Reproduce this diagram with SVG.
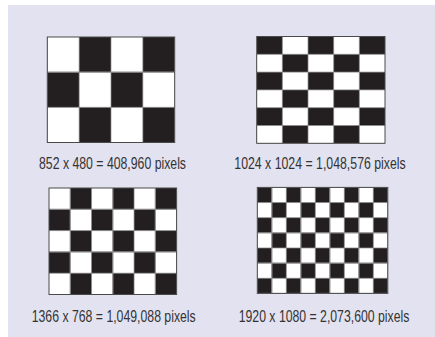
<svg xmlns="http://www.w3.org/2000/svg" width="435" height="337" viewBox="0 0 435 337">
  <style>
    .lbl { font-family: "Liberation Sans", Arial, sans-serif; font-size: 16.5px; fill: #333333; text-anchor: middle; }
    .grid { fill: none; stroke: #8c8c8c; stroke-width: 0.7; }
    .frame { fill: none; stroke: #4a4a4a; stroke-width: 1; }
  </style>
  <defs>
    <pattern id="p1" patternUnits="userSpaceOnUse" x="47.3" y="37" width="63.7" height="70.34">
      <rect x="0" y="0" width="63.7" height="70.34" fill="#ffffff"/>
      <rect x="31.85" y="0" width="31.85" height="35.17" fill="#231f20"/>
      <rect x="0" y="35.17" width="31.85" height="35.17" fill="#231f20"/>
    </pattern>
    <pattern id="p2" patternUnits="userSpaceOnUse" x="256.7" y="36.5" width="51.32" height="35.6">
      <rect x="0" y="0" width="51.32" height="35.6" fill="#ffffff"/>
      <rect x="0" y="0" width="25.66" height="17.8" fill="#231f20"/>
      <rect x="25.66" y="17.8" width="25.66" height="17.8" fill="#231f20"/>
    </pattern>
    <pattern id="p3" patternUnits="userSpaceOnUse" x="49" y="188" width="42.53" height="42.6">
      <rect x="0" y="0" width="42.53" height="42.6" fill="#ffffff"/>
      <rect x="21.27" y="0" width="21.27" height="21.3" fill="#231f20"/>
      <rect x="0" y="21.3" width="21.27" height="21.3" fill="#231f20"/>
    </pattern>
    <pattern id="p4" patternUnits="userSpaceOnUse" x="257.3" y="187.4" width="29" height="30.28">
      <rect x="0" y="0" width="29" height="30.28" fill="#ffffff"/>
      <rect x="0" y="0" width="14.5" height="15.14" fill="#231f20"/>
      <rect x="14.5" y="15.14" width="14.5" height="15.14" fill="#231f20"/>
    </pattern>
  </defs>

  <rect x="0" y="0" width="435" height="337" fill="#ffffff"/>
  <rect x="8" y="5" width="427" height="332" fill="#e3e2f0"/>

  <g id="board-852x480">
    <rect x="47.3" y="37" width="127.4" height="105.5" fill="url(#p1)"/>
    <path class="grid" d="M79.15 37V142.5M111 37V142.5M142.85 37V142.5M47.3 72.17H174.7M47.3 107.33H174.7"/>
    <rect class="frame" x="47.3" y="37" width="127.4" height="105.5"/>
    <text class="lbl" transform="translate(112.5,169) scale(0.75,1)" x="0" y="0" textLength="196" lengthAdjust="spacingAndGlyphs">852 x 480 = 408,960 pixels</text>
  </g>

  <g id="board-1024x1024">
    <rect x="256.7" y="36.5" width="128.3" height="106.8" fill="url(#p2)"/>
    <path class="grid" d="M282.36 36.5V143.3M308.02 36.5V143.3M333.68 36.5V143.3M359.34 36.5V143.3M256.7 54.3H385M256.7 72.1H385M256.7 89.9H385M256.7 107.7H385M256.7 125.5H385"/>
    <rect class="frame" x="256.7" y="36.5" width="128.3" height="106.8"/>
    <text class="lbl" transform="translate(320,169) scale(0.75,1)" x="0" y="0" textLength="228.5" lengthAdjust="spacingAndGlyphs">1024 x 1024 = 1,048,576 pixels</text>
  </g>

  <g id="board-1366x768">
    <rect x="49" y="188" width="127.6" height="106.5" fill="url(#p3)"/>
    <path class="grid" d="M70.27 188V294.5M91.53 188V294.5M112.8 188V294.5M134.07 188V294.5M155.33 188V294.5M49 209.3H176.6M49 230.6H176.6M49 251.9H176.6M49 273.2H176.6"/>
    <rect class="frame" x="49" y="188" width="127.6" height="106.5"/>
    <text class="lbl" transform="translate(113.7,321.5) scale(0.75,1)" x="0" y="0" textLength="218.7" lengthAdjust="spacingAndGlyphs">1366 x 768 = 1,049,088 pixels</text>
  </g>

  <g id="board-1920x1080">
    <rect x="257.3" y="187.4" width="130.5" height="106" fill="url(#p4)"/>
    <path class="grid" d="M271.8 187.4V293.4M286.3 187.4V293.4M300.8 187.4V293.4M315.3 187.4V293.4M329.8 187.4V293.4M344.3 187.4V293.4M358.8 187.4V293.4M373.3 187.4V293.4M257.3 202.54H387.8M257.3 217.69H387.8M257.3 232.83H387.8M257.3 247.97H387.8M257.3 263.11H387.8M257.3 278.26H387.8"/>
    <rect class="frame" x="257.3" y="187.4" width="130.5" height="106"/>
    <text class="lbl" transform="translate(324,321.5) scale(0.75,1)" x="0" y="0" textLength="227.5" lengthAdjust="spacingAndGlyphs">1920 x 1080 = 2,073,600 pixels</text>
  </g>
</svg>
